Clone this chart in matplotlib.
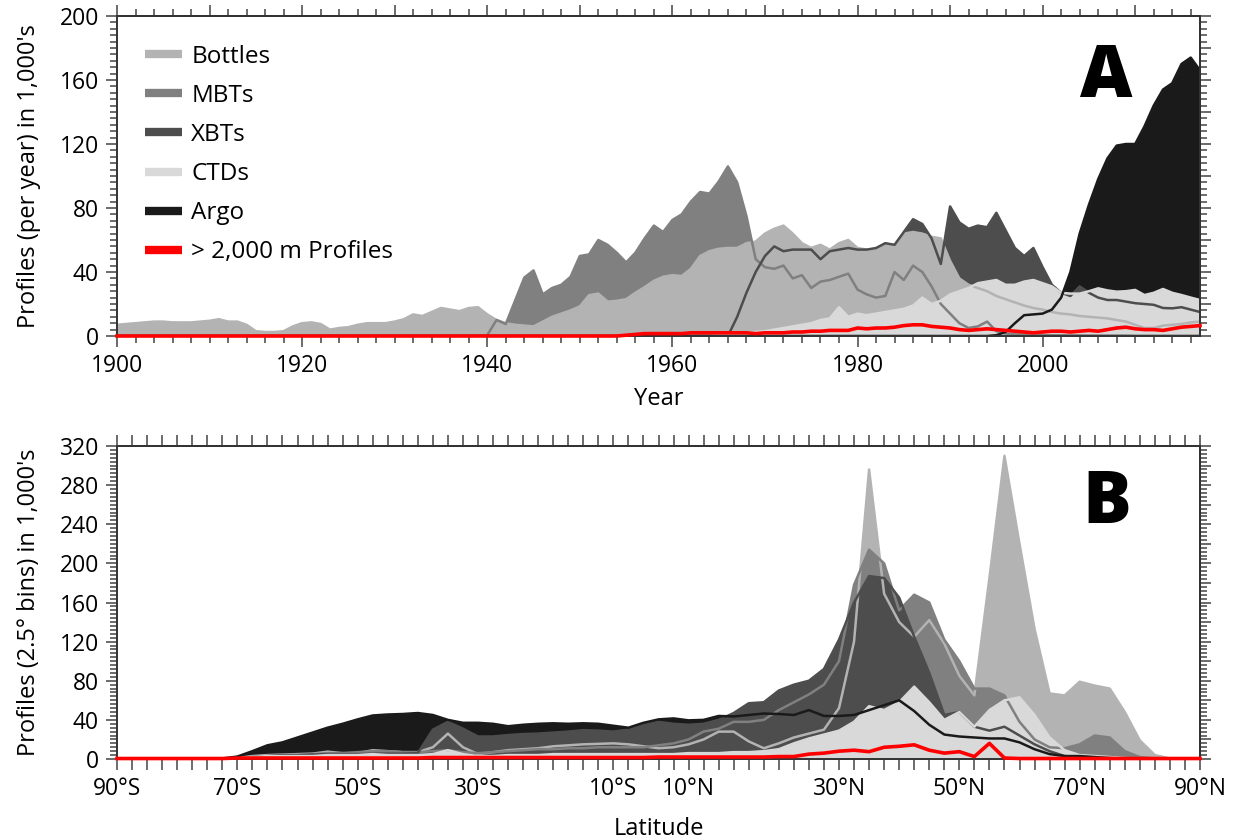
import numpy as np
import matplotlib.pyplot as plt
from matplotlib.ticker import MultipleLocator, FixedLocator, NullFormatter
from matplotlib.lines import Line2D

plt.rcParams['font.family'] = ['Open Sans', 'DejaVu Sans']

# ---------------- Panel A: profiles per year (1,000's) ----------------
years = np.arange(1900, 2018)

bottles_a = [7, 7.5, 8, 8.5, 9, 9, 8.5, 8.5, 8.5, 9,
             9.5, 10.5, 9, 9, 7, 3, 2.5, 2.5, 3, 6,
             8, 8.5, 7.5, 4, 5, 5.5, 7, 8, 8, 8,
             9, 10.5, 13.5, 12.5, 15, 17.5, 16.5, 15.5, 17.5, 18,
             13.5, 10, 8, 7, 6.5, 6, 9, 12, 14, 16,
             18.5, 25.5, 26.5, 21.5, 22, 23, 27, 30.5, 34.5, 37,
             38, 37.5, 42, 50, 53, 54.5, 55, 55, 58, 59,
             64, 67, 69, 64, 58, 55, 57, 54, 58, 60,
             55, 54, 54, 58, 56, 64, 65, 64, 62, 61,
             47, 36, 32, 30, 28, 25, 23, 21, 19, 17.5,
             16.5, 15, 14, 13.5, 12.5, 12, 11.5, 11, 10, 9,
             7, 5, 5, 6.5, 7, 7.5, 8.5, 9]
mbt_a = [0] * 40 + [0.5, 10, 7.5, 22, 36.5, 41, 26, 30, 32, 37,
                    50, 51, 60, 57, 52, 46, 52, 61, 69, 65,
                    72.5, 76, 84, 90, 89, 96.5, 106, 96, 75, 48,
                    43, 42, 44, 36, 38, 30, 34, 35, 37, 39,
                    29, 26, 24, 25, 40, 35, 44, 40, 31, 20,
                    14, 8, 5, 6, 9, 3, 1.5, 1, 1, 0.8,
                    0.5, 0.5, 0.5, 0.4, 0.4, 0.3, 0.3, 0.3, 0.3, 0.3,
                    0.2, 0.2, 0.2, 0.2, 0.2, 0.2, 0.2, 0.2]
xbt_a = [0] * 66 + [0, 12, 27, 40,
                    50, 56, 53, 54, 54, 54, 48, 53, 54, 55,
                    54, 54, 55, 58, 57, 65, 73, 70, 61, 45,
                    81, 71, 67, 69, 68, 77, 66, 55, 50, 55,
                    43, 32, 27, 25, 31, 27, 24, 22.5, 22.5, 21.5,
                    20.5, 20, 19.5, 17.5, 17.3, 18, 16.5, 15]
ctd_a = [0] * 65 + [0.5, 1, 1.5, 2, 2.5,
                    3, 4, 5, 6, 7, 8, 10, 11, 18, 12,
                    14, 13, 14, 15, 16, 17, 19, 24, 20, 22,
                    26, 28, 30, 33, 34, 35, 32, 32, 34, 35,
                    33, 31, 27, 26.5, 26.5, 28, 29.8, 28.5, 27.7, 28,
                    28.8, 25.6, 27, 29.4, 27, 25.6, 24, 22.5]
argo_a = [0] * 95 + [0.5, 2.5, 8, 13, 13.5,
                     14, 16.5, 24, 40, 64, 82, 98, 111, 119, 120,
                     120, 131, 144, 154, 158, 170, 174, 166]
deep_a = [0] * 55 + [0.5, 1, 1.5, 1.5, 1.5,
                     1.5, 1.5, 2, 2, 2, 2, 2, 2, 2, 1.5,
                     2, 2, 2, 2.5, 2.5, 3, 3, 3.5, 3.5, 3.5,
                     5, 4.5, 5, 5, 5.5, 6.5, 7, 7, 6, 5.5,
                     5, 4, 3.5, 4, 4.5, 4, 3.5, 3, 2.5, 2,
                     2.5, 3, 3, 2.5, 3, 3.5, 3, 4, 5, 5.5,
                     4.5, 4, 4, 3.5, 4.5, 5.5, 6, 6.5]

# ---------------- Panel B: profiles per 2.5 deg latitude bin ----------------
lats = np.arange(-90, 90.1, 2.5)

bottles_b = [0, 0, 0, 0.2, 0.3, 0.3, 0.3, 0.5,
             1, 3, 4, 4.5, 5, 5.5, 7.5, 6,
             6, 9, 8, 7, 7, 12, 26, 12,
             5, 7, 9, 10, 11, 13, 14, 15,
             15.5, 16, 15, 13, 11, 12, 15, 20,
             28, 28, 18, 11, 16, 22, 26, 30,
             52, 120, 296, 169, 140, 125, 142, 118,
             85, 65, 185, 310, 220, 133, 67, 65,
             79, 75, 72, 48, 19, 4, 0.5, 0,
             0]
mbt_b = [0, 0, 0, 0, 0, 0.2, 0.3, 0.5,
         1, 2, 3, 4, 4, 5, 6, 6,
         7, 8, 8, 7, 7, 8, 9, 7,
         6, 7, 8, 9, 10, 10, 11, 11,
         12, 12, 12, 12, 14, 16, 20, 28,
         31, 38, 38, 40, 50, 58, 66, 76,
         100, 178, 214, 200, 152, 168, 160, 122,
         100, 72, 72, 65, 38, 20, 12, 11,
         15, 24, 22, 8, 2, 0.5, 0, 0,
         0]
xbt_b = [0, 0, 0, 0, 0, 0, 0, 0,
         0.5, 2, 3, 4, 4, 4.5, 5, 5,
         5, 5.5, 5.5, 5.5, 6, 30, 38, 31,
         23, 23, 24.5, 25.5, 26, 27, 28, 29.5,
         29, 28, 30, 35, 38, 36, 35, 36,
         40, 47, 57, 58, 70, 76, 80, 92,
         122, 160, 187, 185, 165, 125, 88, 45,
         48, 33, 29, 33, 24, 15, 8, 3,
         2, 2, 1, 0.5, 0, 0, 0, 0,
         0]
ctd_b = [0, 0, 0, 0, 0, 0, 0, 0.2,
         1, 2, 3, 3, 3, 3, 4, 4,
         4, 5, 4, 4, 4, 5, 9, 5,
         3, 3, 4, 4, 4, 5, 5, 5,
         5, 5, 5, 5, 5, 5, 6, 6,
         6, 7, 7, 8, 10, 16, 21, 25,
         29, 38, 54, 50, 58, 74, 58, 40,
         48, 33, 50, 60, 63, 45, 22, 9,
         4, 3, 2, 1, 0.5, 0, 0, 0,
         0]
argo_b = [0, 0, 0, 0, 0, 0, 0.2, 0.5,
          2.5, 8, 14, 17, 22, 27, 32, 36,
          40.5, 44.5, 45.5, 46, 47, 45, 40, 37,
          37, 36, 33.5, 35, 36, 36.5, 36, 36.5,
          36, 34, 32, 37, 40.5, 41.5, 39.5, 40,
          44, 43.5, 45, 46.5, 46, 45, 50, 44,
          44, 45, 50, 55, 60, 49, 35, 25,
          23, 22, 21, 21, 17, 10, 5, 3,
          3, 2, 1, 0.3, 0, 0, 0, 0,
          0]
deep_b = [0.5, 0.5, 0.5, 0.5, 0.5, 0.5, 0.5, 0.5,
          1, 1, 1, 1, 1, 1, 1, 1,
          1, 1, 1, 1, 1, 1.5, 1.5, 1.5,
          1.5, 1.5, 1.5, 1.5, 1.5, 1.5, 1.5, 1.5,
          1.5, 1.5, 1.5, 1.5, 2, 2, 2, 2,
          2, 2, 2, 2, 2.5, 2.5, 5, 6,
          8, 9, 7.5, 12, 13, 14.5, 9, 6,
          7.5, 2.5, 16, 1, 0.5, 0.5, 0.5, 0.5,
          0.5, 0.5, 0.5, 0.5, 0.5, 0.5, 0.5, 0.5,
          0.5]

# the 10S / 10N labels sit squeezed towards the equator in the original
lat_label_pos = [-90, -70, -50, -30, -7.5, 5, 30, 50, 70, 90]
lat_labels = ['90°S', '70°S', '50°S', '30°S', '10°S',
              '10°N', '30°N', '50°N', '70°N', '90°N']

names = ['Bottles', 'MBTs', 'XBTs', 'CTDs', 'Argo']
colors = {'Bottles': '#b3b3b3', 'MBTs': '#808080', 'XBTs': '#4d4d4d',
          'CTDs': '#d9d9d9', 'Argo': '#1a1a1a'}
red = '#ff0000'
FS = 16.5


def draw_panel(ax, x, data, fill_order, deep):
    for n in fill_order:
        ax.fill_between(x, 0, data[n], color=colors[n], lw=0, zorder=1)
    for n in names:
        ax.plot(x, data[n], color=colors[n], lw=1.8, zorder=2)
    ax.plot(x, deep, color=red, lw=2.6, zorder=4, clip_on=False)


def style_axes(ax):
    for sp in ax.spines.values():
        sp.set_color('#333333')
        sp.set_linewidth(1.4)
    ax.tick_params(which='both', direction='out', color='#444444', width=1.1,
                   labelsize=FS, pad=5)
    ax.tick_params(which='major', length=8)
    ax.tick_params(which='minor', length=5)


def add_secondary(ax, xmaj, xmin, ymaj, ymin, xlen_min=5):
    top = ax.secondary_xaxis('top')
    top.xaxis.set_major_locator(xmaj)
    top.xaxis.set_minor_locator(xmin)
    top.xaxis.set_major_formatter(NullFormatter())
    top.tick_params(which='both', direction='out', color='#444444', width=1.1)
    top.tick_params(which='major', length=8)
    top.tick_params(which='minor', length=xlen_min)
    top.spines['top'].set_color('#333333')
    top.spines['top'].set_linewidth(1.4)
    right = ax.secondary_yaxis('right')
    right.yaxis.set_major_locator(ymaj)
    right.yaxis.set_minor_locator(ymin)
    right.yaxis.set_major_formatter(NullFormatter())
    right.tick_params(which='both', direction='out', color='#444444', width=1.1)
    right.tick_params(which='major', length=8)
    right.tick_params(which='minor', length=5)
    right.spines['right'].set_color('#333333')
    right.spines['right'].set_linewidth(1.4)


fig = plt.figure(figsize=(12.33, 8.4), dpi=100)
axA = fig.add_axes([117 / 1233, 1 - 336 / 840, 1083 / 1233, 320 / 840])
axB = fig.add_axes([117 / 1233, 1 - 759 / 840, 1083 / 1233, 313 / 840])

# Panel A
data_a = {'Bottles': bottles_a, 'MBTs': mbt_a, 'XBTs': xbt_a,
          'CTDs': ctd_a, 'Argo': argo_a}
draw_panel(axA, years, data_a, ['Argo', 'XBTs', 'MBTs', 'Bottles', 'CTDs'], deep_a)
axA.set_xlim(1900, 2017)
axA.set_ylim(0, 200)
axA.xaxis.set_major_locator(MultipleLocator(20))
axA.xaxis.set_minor_locator(MultipleLocator(2))
axA.yaxis.set_major_locator(MultipleLocator(40))
axA.yaxis.set_minor_locator(MultipleLocator(4))
style_axes(axA)
add_secondary(axA, MultipleLocator(10), MultipleLocator(2),
              MultipleLocator(20), MultipleLocator(4))
axA.set_xlabel('Year', fontsize=17)
axA.xaxis.set_label_coords(0.5, -0.16)
axA.set_ylabel("Profiles (per year) in 1,000's", fontsize=17)
axA.yaxis.set_label_coords(-0.07, 0.5)
axA.text(0.913, 0.747, 'A', transform=axA.transAxes, fontsize=52,
         fontweight='black', ha='center', va='baseline')

handles = [Line2D([], [], color=colors[n], lw=6, solid_capstyle='butt') for n in names]
handles.append(Line2D([], [], color=red, lw=6, solid_capstyle='butt'))
axA.legend(handles, names + ['> 2,000 m Profiles'], loc='upper left',
           bbox_to_anchor=(0.026, 0.91), frameon=False, fontsize=17.5,
           handlelength=1.5, handletextpad=0.4, labelspacing=0.62,
           borderpad=0, borderaxespad=0)

# Panel B
data_b = {'Bottles': bottles_b, 'MBTs': mbt_b, 'XBTs': xbt_b,
          'CTDs': ctd_b, 'Argo': argo_b}
draw_panel(axB, lats, data_b, ['Bottles', 'Argo', 'MBTs', 'XBTs', 'CTDs'], deep_b)
axB.set_xlim(-90, 90)
axB.set_ylim(0, 320)
axB.xaxis.set_major_locator(FixedLocator(lat_label_pos))
axB.xaxis.set_minor_locator(MultipleLocator(2.5))
axB.set_xticklabels(lat_labels)
axB.yaxis.set_major_locator(MultipleLocator(40))
axB.yaxis.set_minor_locator(MultipleLocator(4))
style_axes(axB)
axB.tick_params(axis='x', which='minor', length=8)
add_secondary(axB, MultipleLocator(2.5), MultipleLocator(2.5),
              MultipleLocator(20), MultipleLocator(4), xlen_min=8)
axB.set_xlabel('Latitude', fontsize=17)
axB.xaxis.set_label_coords(0.5, -0.185)
axB.set_ylabel("Profiles (2.5° bins) in 1,000's", fontsize=17)
axB.yaxis.set_label_coords(-0.07, 0.5)
axB.text(0.914, 0.754, 'B', transform=axB.transAxes, fontsize=52,
         fontweight='black', ha='center', va='baseline')

fig.savefig('out.png', dpi=100)
